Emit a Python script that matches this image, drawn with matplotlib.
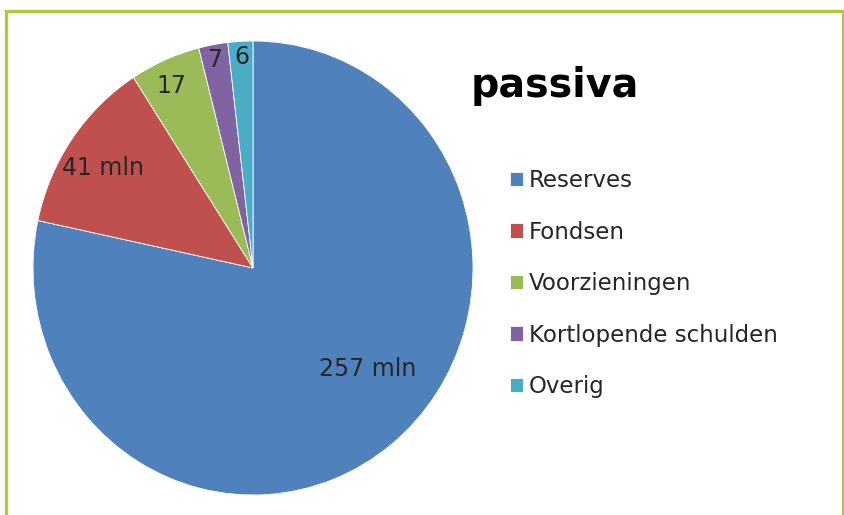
import matplotlib.pyplot as plt
from matplotlib.patches import Rectangle

# gegevens
categorieen = ['Reserves', 'Fondsen', 'Voorzieningen', 'Kortlopende schulden', 'Overig']
waarden = [257, 41, 17, 7, 6]
labels = ['257 mln', '41 mln', '17', '7', '6']
kleuren = ['#4F81BD', '#C0504D', '#9BBB59', '#8064A2', '#4BACC6']

# plaats van de labels (in as-coordinaten)
label_pos = [(0.52, -0.445), (-0.68, 0.44), (-0.37, 0.80), (-0.173, 0.915), (-0.05, 0.93)]

W, H = 845, 515
fig = plt.figure(figsize=(W / 100, H / 100), dpi=100)
fig.patch.set_facecolor('white')

# kader
fig.patches.append(Rectangle((6 / W, -0.05), 837 / W, 1.05 - 11 / H, transform=fig.transFigure,
                             fill=False, edgecolor='#AFC93A', linewidth=2.4))

# as met de taart (licht ellips zoals in het origineel)
ax = fig.add_axes([33 / W, (H - 495) / H, 440 / W, 454 / H])
wedges, _ = ax.pie(waarden, colors=kleuren, startangle=90, counterclock=False,
                   wedgeprops=dict(edgecolor='white', linewidth=0.6))
ax.set_aspect('auto')
ax.set_xlim(-1, 1)
ax.set_ylim(-1, 1)
ax.axis('off')

for tekst, (x, y) in zip(labels, label_pos):
    ax.text(x, y, tekst, ha='center', va='center', fontsize=17, color='#262626')

fig.text(555 / W, 1 - 86 / H, 'passiva', ha='center', va='center',
         fontsize=28.5, fontweight='bold', color='black')

leg = fig.legend(wedges, categorieen, loc='upper left',
                 bbox_to_anchor=(510 / W, 1 - 169 / H), frameon=False,
                 fontsize=16.5, handlelength=0.58, handleheight=0.58,
                 handletextpad=0.25, labelspacing=1.245, borderaxespad=0, borderpad=0)
for t in leg.get_texts():
    t.set_color('#262626')

fig.savefig('out.png', dpi=100)
